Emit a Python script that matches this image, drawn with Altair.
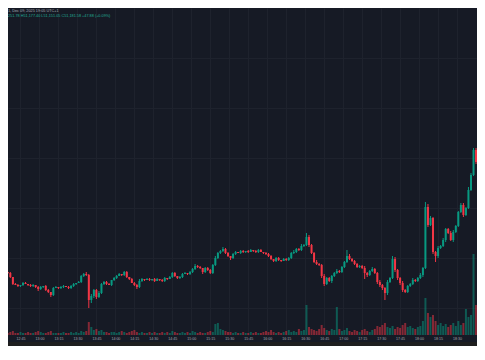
import altair as alt
import pandas as pd

# ---- data (2-minute candles starting 12:33) ----
START_MIN = 12 * 60 + 33   # 12:33, minutes since midnight
STEP_MIN = 2
OPEN0 = 129
CLOSE = [
    128, 127, 123, 116, 115, 114, 115, 117, 116, 115, 114, 115, 113, 111, 113, 114, 110, 108, 105, 112,
    113, 112, 113, 114, 113, 112, 114, 116, 117, 118, 124, 126, 125, 100, 104, 110, 103, 107, 116, 118,
    116, 115, 120, 122, 124, 126, 125, 128, 123, 121, 117, 115, 113, 119, 121, 120, 121, 120, 121, 119,
    121, 120, 119, 122, 121, 123, 127, 124, 122, 123, 126, 127, 126, 128, 131, 134, 133, 132, 128, 132,
    130, 127, 135, 142, 147, 149, 151, 147, 144, 142, 146, 148, 147, 149, 148, 149, 148, 150, 149, 148,
    150, 148, 147, 146, 144, 141, 139, 142, 140, 139, 141, 140, 142, 147, 148, 151, 150, 154, 155, 163,
    155, 147, 138, 136, 135, 124, 116, 122, 119, 124, 127, 129, 128, 133, 138, 144, 141, 139, 136, 133,
    134, 132, 127, 125, 129, 131, 127, 118, 115, 112, 107, 118, 122, 141, 130, 122, 117, 110, 108, 114,
    116, 120, 119, 122, 125, 132, 193, 175, 182, 148, 144, 152, 154, 160, 171, 167, 160, 168, 174, 188,
    195, 185, 192, 210, 225, 250, 238, 268,
]
WICK_UP = [
    1, 0, 1, 0, 1, 1, 0, 1, 1, 0, 1, 1, 0, 1, 1, 0, 1, 1, 0, 1,
    1, 0, 1, 1, 0, 1, 1, 1, 0, 1, 1, 1, 2, 1, 2, 1, 1, 2, 1, 1,
    1, 1, 0, 1, 1, 1, 0, 1, 1, 0, 1, 1, 1, 2, 1, 0, 1, 1, 0, 1,
    1, 0, 1, 1, 0, 1, 1, 1, 0, 1, 1, 1, 0, 1, 1, 2, 1, 1, 0, 1,
    1, 1, 1, 2, 1, 1, 2, 1, 1, 0, 1, 1, 0, 1, 1, 0, 1, 1, 0, 1,
    1, 1, 0, 1, 1, 1, 0, 1, 1, 0, 1, 1, 1, 1, 2, 1, 1, 2, 1, 4,
    2, 1, 1, 2, 1, 1, 2, 1, 1, 1, 1, 2, 1, 1, 1, 6, 2, 1, 1, 1,
    1, 1, 2, 1, 1, 2, 1, 1, 2, 1, 1, 2, 1, 3, 2, 1, 1, 2, 1, 1,
    1, 2, 1, 1, 2, 1, 5, 3, 2, 1, 1, 2, 1, 2, 1, 1, 2, 2, 1, 1,
    2, 2, 1, 3, 2, 2, 2, 10,
]
WICK_DN = [
    1, 1, 1, 1, 0, 1, 1, 1, 0, 1, 1, 1, 1, 2, 1, 1, 1, 1, 2, 1,
    0, 1, 1, 1, 0, 1, 1, 1, 1, 0, 1, 1, 1, 8, 3, 2, 2, 1, 1, 1,
    1, 0, 1, 1, 1, 0, 1, 1, 1, 1, 0, 1, 2, 1, 1, 1, 0, 1, 1, 1,
    0, 1, 1, 1, 1, 0, 1, 1, 1, 1, 1, 0, 1, 1, 1, 1, 1, 1, 2, 1,
    1, 1, 1, 1, 1, 1, 1, 1, 1, 2, 1, 1, 0, 1, 1, 1, 1, 0, 1, 1,
    1, 0, 1, 1, 1, 1, 1, 1, 1, 1, 0, 1, 1, 1, 1, 1, 1, 1, 1, 1,
    2, 1, 1, 1, 1, 2, 2, 1, 1, 2, 1, 1, 1, 1, 1, 1, 1, 1, 1, 1,
    1, 1, 6, 2, 1, 1, 1, 2, 2, 2, 7, 2, 1, 1, 2, 2, 2, 2, 1, 1,
    1, 1, 1, 1, 1, 2, 1, 2, 1, 2, 6, 2, 1, 1, 2, 1, 1, 2, 1, 1,
    1, 2, 1, 1, 1, 1, 2, 1,
]
VOLUME = [
    3, 2, 3, 4, 2, 2, 3, 2, 2, 3, 2, 2, 3, 4, 3, 2, 2, 3, 4, 2,
    2, 2, 2, 3, 2, 2, 3, 2, 3, 2, 4, 3, 4, 13, 8, 5, 6, 4, 5, 3,
    3, 2, 3, 3, 2, 3, 4, 3, 2, 3, 4, 5, 3, 2, 3, 2, 2, 3, 2, 3,
    2, 2, 3, 2, 3, 2, 4, 3, 2, 2, 3, 2, 3, 2, 4, 3, 2, 3, 2, 2,
    3, 4, 3, 11, 12, 6, 5, 4, 3, 3, 2, 3, 2, 2, 3, 2, 2, 3, 2, 3,
    2, 2, 3, 4, 3, 5, 3, 2, 3, 2, 3, 4, 5, 3, 4, 3, 6, 4, 5, 30,
    8, 6, 5, 4, 6, 10, 7, 5, 4, 6, 5, 28, 6, 4, 5, 7, 4, 3, 5, 4,
    3, 5, 6, 4, 3, 5, 6, 9, 8, 10, 12, 8, 7, 9, 6, 8, 7, 10, 12, 8,
    9, 7, 6, 8, 9, 14, 37, 22, 18, 20, 14, 10, 12, 9, 11, 8, 10, 12, 9, 14,
    10, 12, 26, 18, 20, 81, 30, 55,
]
TICK_MINUTES = [12 * 60 + 45 + 15 * k for k in range(24)]   # 12:45 ... 18:30
PRICE_GRID = [92, 142, 192, 242, 292, 342]
HEADER_1 = "1, Dec 09, 2025 19:05 UTC+1"
HEADER_2 = "251.78  H51,177.40  L51,151.05  C51,181.58  +47.88 (+0.09%)"

UP_COLOR = "#089981"
DOWN_COLOR = "#f23645"
BG = "#161a25"
GRID = "#1e222d"
FONT = "Liberation Sans"

n = min(len(CLOSE), len(WICK_UP), len(WICK_DN), len(VOLUME))
opens = [OPEN0] + CLOSE[: n - 1]
rows = []
for i in range(n):
    o, c = opens[i], CLOSE[i]
    rows.append(
        dict(
            t=START_MIN + STEP_MIN * i,
            open=o,
            close=c,
            high=max(o, c) + WICK_UP[i],
            low=min(o, c) - WICK_DN[i],
            vol=VOLUME[i],
            dir="up" if c >= o else "down",
        )
    )
df = pd.DataFrame(rows)

W, H = 469, 327

xscale = alt.Scale(domain=[12 * 60 + 39.1, 18 * 60 + 41.8], nice=False, zero=False)
xaxis = alt.Axis(
    title=None,
    values=TICK_MINUTES,
    labelExpr="floor(datum.value / 60) + ':' + (datum.value % 60 < 10 ? '0' : '') + (datum.value % 60)",
    grid=True,
    gridColor=GRID,
    gridWidth=1,
    domain=False,
    ticks=False,
    labelColor="#a3a6af",
    labelFontSize=3.6,
    labelFont=FONT,
    labelPadding=1.5,
    labelFlush=False,
    labelOverlap=False,
)
color = alt.Color(
    "dir:N",
    scale=alt.Scale(domain=["up", "down"], range=[UP_COLOR, DOWN_COLOR]),
    legend=None,
)
pscale = alt.Scale(domain=[65, 392], nice=False, zero=False)
paxis = alt.Axis(
    title=None,
    labels=False,
    ticks=False,
    domain=False,
    grid=True,
    gridColor=GRID,
    values=PRICE_GRID,
)

base = alt.Chart(df).encode(x=alt.X("t:Q", scale=xscale, axis=xaxis), color=color)

vol = base.mark_bar(size=2, opacity=0.5, clip=True).encode(
    y=alt.Y("vol:Q", scale=alt.Scale(domain=[0, H], nice=False), axis=None)
)
wick = base.mark_rule(strokeWidth=1, clip=True).encode(
    y=alt.Y("low:Q", scale=pscale, axis=paxis), y2="high:Q"
)
body = base.mark_bar(size=2, clip=True).encode(
    y=alt.Y("open:Q", scale=pscale, axis=paxis), y2="close:Q"
)
price = alt.layer(wick, body)

head1 = alt.Chart(pd.DataFrame({"txt": [HEADER_1]})).mark_text(
    align="left", baseline="top", fontSize=3.8, font=FONT, color="#a9acb5"
).encode(x=alt.value(0), y=alt.value(0.5), text="txt:N")
head2 = alt.Chart(pd.DataFrame({"txt": [HEADER_2]})).mark_text(
    align="left", baseline="top", fontSize=3.8, font=FONT, color="#22ab94"
).encode(x=alt.value(0), y=alt.value(6), text="txt:N")
strip = alt.Chart(pd.DataFrame({"a": [0]})).mark_rect(color="#1e1e1e", clip=False).encode(
    x=alt.value(0), x2=alt.value(W), y=alt.value(334), y2=alt.value(345)
)

chart = (
    alt.layer(vol, price, head1, head2, strip)
    .resolve_scale(y="independent")
    .properties(
        width=W,
        height=H,
        background=BG,
        padding={"left": 0, "top": 0, "right": 0, "bottom": 11},
        autosize=alt.AutoSizeParams(type="none"),
    )
    .configure_view(stroke=None)
)

chart.save("out.html", embed_options={"renderer": "svg", "actions": False})
